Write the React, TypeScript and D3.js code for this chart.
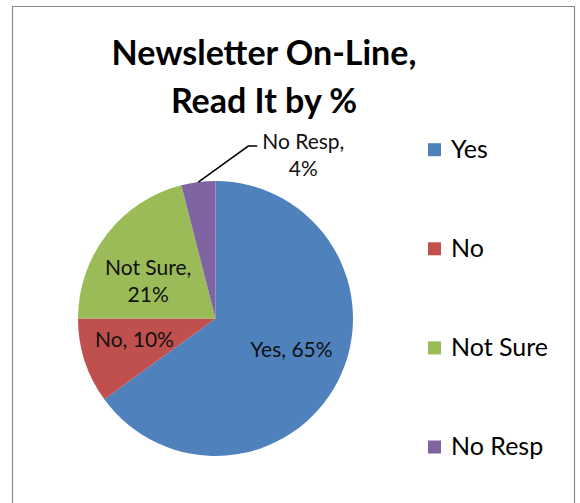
import { useEffect, useRef } from 'react';
import * as d3 from 'd3';

const categories = ['Yes', 'No', 'Not Sure', 'No Resp'];
const percents = [65, 10, 21, 4];
const colors = ['#4F81BD', '#C0504D', '#9BBB59', '#8064A2'];
const titleLines = ['Newsletter On-Line,', 'Read It by %'];

export default function App() {
  const svgRef = useRef<SVGSVGElement>(null);

  useEffect(() => {
    if (!svgRef.current) return;
    const svg = d3.select(svgRef.current);
    svg.selectAll('*').remove();

    const width = 580;
    const height = 503;
    const font = 'Lato, "Open Sans", sans-serif';
    const cx = 215.5;
    const cy = 318.5;
    const radius = 137.5;

    svg.append('rect')
      .attr('width', width)
      .attr('height', height)
      .attr('fill', '#fff');

    // chart frame (bottom runs off the picture)
    svg.append('path')
      .attr('d', `M12.5,${height + 2} V6.5 H574.5 V${height + 2}`)
      .attr('fill', 'none')
      .attr('stroke', '#8a8a8a')
      .attr('stroke-width', 1.2);

    // title
    svg.append('g')
      .selectAll('text')
      .data(titleLines)
      .enter().append('text')
      .attr('x', 264)
      .attr('y', (d, i) => 65 + i * 48)
      .attr('text-anchor', 'middle')
      .attr('font-family', font)
      .attr('font-weight', 'bold')
      .attr('font-size', '34px')
      .attr('fill', '#000')
      .text(d => d);

    const data = categories.map((c, i) => ({ name: c, value: percents[i], color: colors[i] }));
    const pie = d3.pie<any>().value(d => d.value).sort(null);
    const arcs = pie(data);
    const arc = d3.arc<any>().innerRadius(0).outerRadius(radius);
    const labelArc = d3.arc<any>().innerRadius(radius * 0.62).outerRadius(radius * 0.62);

    const g = svg.append('g').attr('transform', `translate(${cx},${cy})`);

    g.selectAll('path.slice')
      .data(arcs)
      .enter().append('path')
      .attr('class', 'slice')
      .attr('d', arc)
      .attr('fill', d => d.data.color);

    // inside labels (best-fit style: flattened towards the horizontal)
    const inside = arcs.filter(d => d.data.value >= 8);
    inside.forEach(d => {
      const [x, yc] = labelArc.centroid(d);
      const y = yc * 0.75;
      const lines = d.data.name === 'Not Sure'
        ? [`${d.data.name},`, `${d.data.value}%`]
        : [`${d.data.name}, ${d.data.value}%`];
      const t = g.append('text')
        .attr('x', x)
        .attr('y', y - (lines.length - 1) * 13)
        .attr('text-anchor', 'middle')
        .attr('dominant-baseline', 'central')
        .attr('font-family', font)
        .attr('font-size', '21px')
        .attr('fill', '#111');
      lines.forEach((l, i) => {
        t.append('tspan')
          .attr('x', x)
          .attr('dy', i === 0 ? 0 : 27)
          .text(l);
      });
    });

    // outside label with leader line
    arcs.filter(d => d.data.value < 8).forEach(d => {
      const mid = (d.startAngle + d.endAngle) / 2;
      const px = Math.sin(mid) * radius;
      const py = -Math.cos(mid) * radius;
      const ex = px + 50;
      const ey = py - 36;
      g.append('polyline')
        .attr('points', `${px},${py} ${ex},${ey} ${ex + 9},${ey}`)
        .attr('fill', 'none')
        .attr('stroke', '#000')
        .attr('stroke-width', 1.5);
      const t = g.append('text')
        .attr('text-anchor', 'middle')
        .attr('font-family', font)
        .attr('font-size', '21px')
        .attr('fill', '#111');
      t.append('tspan')
        .attr('x', ex + 55)
        .attr('y', ey + 3)
        .text(`${d.data.name},`);
      t.append('tspan')
        .attr('x', ex + 55)
        .attr('dy', 27)
        .text(`${d.data.value}%`);
    });

    // legend
    const ly = d3.scalePoint<string>().domain(categories).range([149.7, 447]);
    const legend = svg.append('g')
      .selectAll('g')
      .data(data)
      .enter().append('g')
      .attr('transform', d => `translate(428,${ly(d.name)})`);

    legend.append('rect')
      .attr('x', 0)
      .attr('y', -6.5)
      .attr('width', 13)
      .attr('height', 13)
      .attr('fill', d => d.color);

    legend.append('text')
      .attr('x', 23)
      .attr('y', 8)
      .attr('font-family', font)
      .attr('font-size', '25px')
      .attr('fill', '#000')
      .text(d => d.name);
  }, []);

  return (
    <svg
      ref={svgRef}
      width="580"
      height="503"
      style={{ position: 'absolute', left: 0, top: 0 }}
    />
  );
}
